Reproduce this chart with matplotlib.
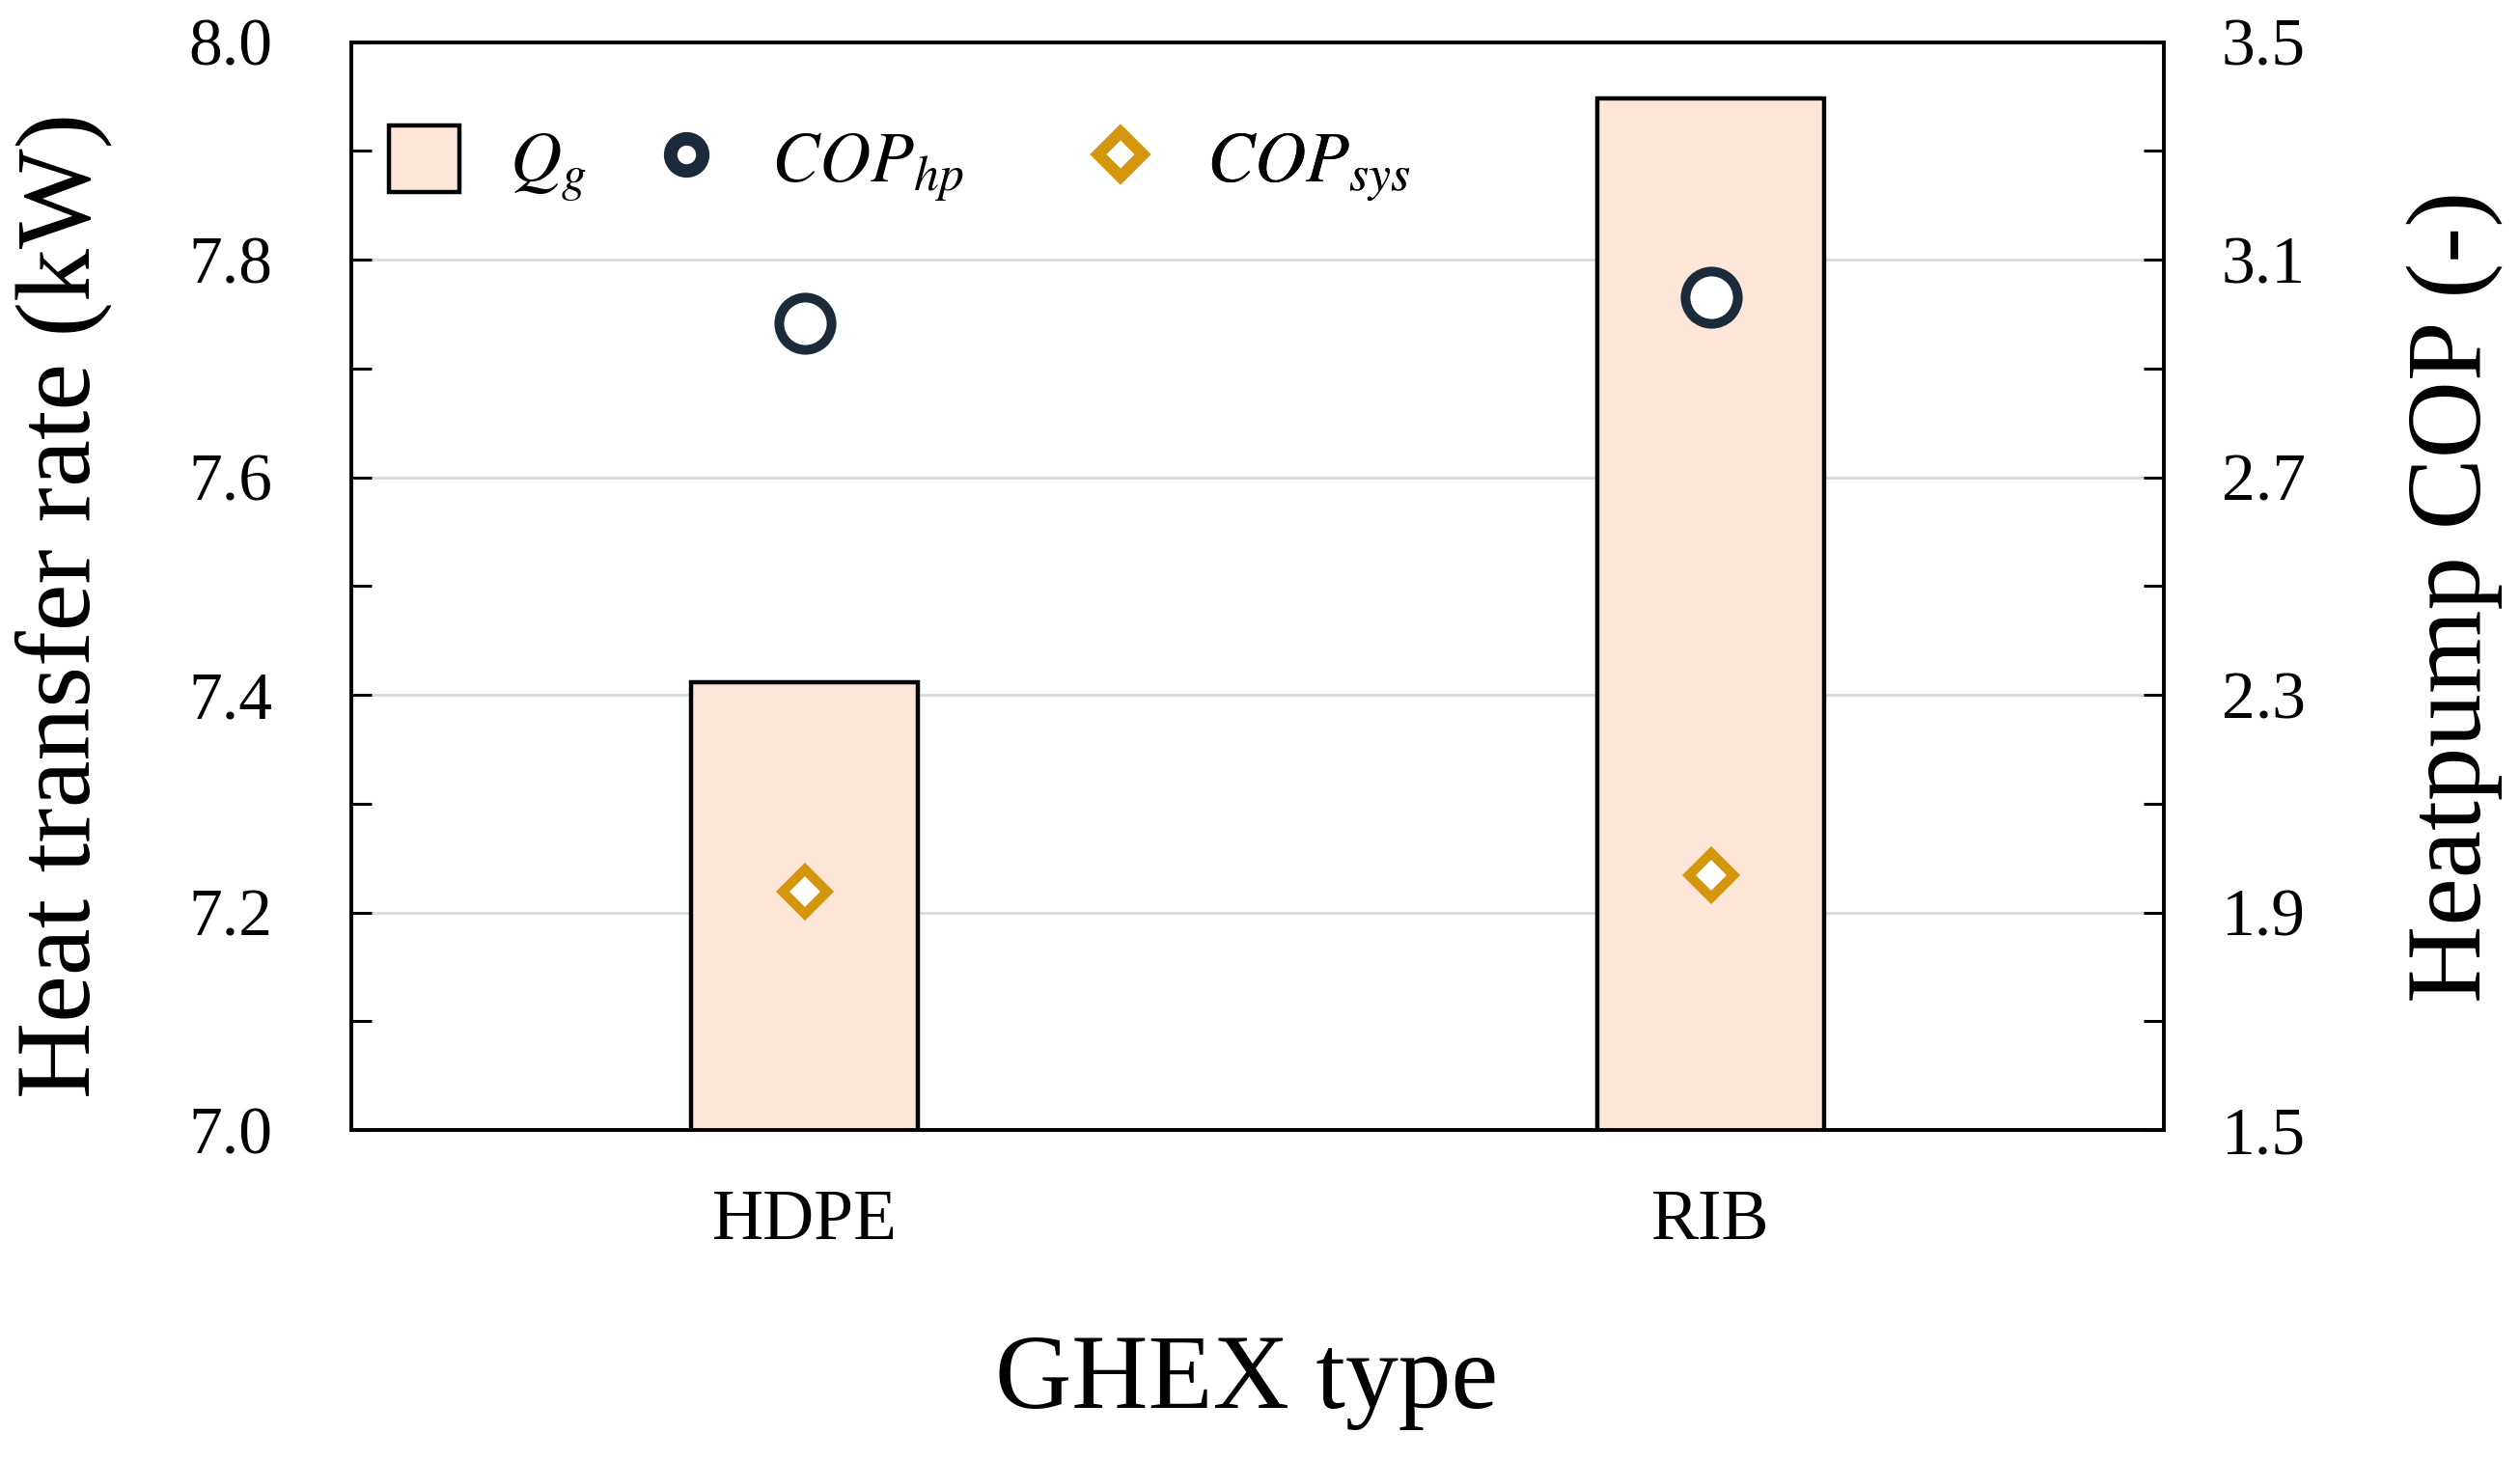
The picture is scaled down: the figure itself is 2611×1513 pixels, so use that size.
#!/usr/bin/env python3
"""Heat transfer rate and heat pump COP by GHEX type."""

import matplotlib

matplotlib.use("Agg")
import matplotlib.pyplot as plt
import numpy as np
from matplotlib.lines import Line2D
from matplotlib.patches import Patch
from matplotlib.ticker import FormatStrFormatter

# data
GHEX_TYPES = ["HDPE", "RIB"]
HEAT_RATE_KW = [7.412, 7.948]
COP_HP = [2.983, 3.031]
COP_SYS = [1.938, 1.968]

BAR_FILL = "#fde6d8"
HP_COLOR = "#1c2b3a"
SYS_COLOR = "#d4960c"
GRID_COLOR = "#d9d9d9"

# left edge of each legend entry, axes fraction (entries sit on fixed columns)
LEGEND_X = (0.0207, 0.165, 0.405)
LEGEND_Y = 0.887

plt.rcParams["font.family"] = ["Liberation Serif", "DejaVu Serif"]
plt.rcParams["mathtext.fontset"] = "stix"


def main() -> None:
    fig = plt.figure(figsize=(26.11, 15.13), dpi=100)
    fig.subplots_adjust(left=364 / 2611, right=2242 / 2611,
                        top=1 - 43.6 / 1513, bottom=1 - 1171 / 1513)
    ax = fig.add_subplot(111)
    ax2 = ax.twinx()

    x = np.arange(len(GHEX_TYPES))
    ax.bar(x, HEAT_RATE_KW, width=0.25, color=BAR_FILL, edgecolor="black",
           linewidth=3.2, zorder=2)
    ax.set_xlim(-0.5, 1.5)
    ax.set_ylim(7.0, 8.0)
    ax.set_axisbelow(True)
    ax.yaxis.grid(True, which="major", color=GRID_COLOR, linewidth=2)

    ax2.plot(x, COP_HP, ls="none", marker="o", ms=39, mfc="white",
             mec=HP_COLOR, mew=7.2, zorder=3)
    ax2.plot(x, COP_SYS, ls="none", marker="D", ms=23, mfc="white",
             mec=SYS_COLOR, mew=7.2, zorder=3)
    ax2.set_ylim(1.5, 3.5)

    # ticks
    ax.set_xticks(x)
    ax.set_xticklabels(GHEX_TYPES)
    ax.tick_params(axis="x", length=0, labelsize=53, pad=44)
    ax.set_yticks(np.arange(7.0, 8.01, 0.2))
    ax.set_yticks(np.arange(7.1, 8.0, 0.2), minor=True)
    ax.yaxis.set_major_formatter(FormatStrFormatter("%.1f"))
    ax.tick_params(axis="y", which="both", direction="in", length=15,
                   width=2.2, labelsize=50, pad=59, right=False)

    ax2.set_yticks(np.arange(1.5, 3.51, 0.4))
    ax2.set_yticks(np.arange(1.7, 3.4, 0.4), minor=True)
    ax2.yaxis.set_major_formatter(FormatStrFormatter("%.1f"))
    ax2.tick_params(axis="y", which="both", direction="in", length=15,
                    width=2.2, labelsize=50, pad=43, left=False)

    for axis in (ax, ax2):
        for spine in axis.spines.values():
            spine.set_linewidth(2.6)

    # axis labels
    ax.set_xlabel("GHEX type", fontsize=79)
    ax.xaxis.label.set_va("center")
    ax.xaxis.set_label_coords(0.494, -0.232)
    ax.set_ylabel("Heat transfer rate (kW)", fontsize=79)
    ax.yaxis.label.set_va("center")
    ax.yaxis.set_label_coords(-0.159, 0.482)
    ax2.set_ylabel("Heatpump COP (-)", fontsize=80)
    ax2.yaxis.label.set_va("center")
    ax2.yaxis.set_label_coords(1.161, 0.490)

    handles = [
        Patch(facecolor=BAR_FILL, edgecolor="black", linewidth=3.2),
        Line2D([], [], ls="none", marker="o", ms=24, mfc="white",
               mec=HP_COLOR, mew=10),
        Line2D([], [], ls="none", marker="D", ms=23, mfc="white",
               mec=SYS_COLOR, mew=8.6),
    ]
    labels = [r"$Q_g$", r"$COP_{hp}$", r"$COP_{sys}$"]
    for handle, label, x0 in zip(handles, labels, LEGEND_X):
        leg = ax2.legend([handle], [label], loc="center left",
                         bbox_to_anchor=(x0, LEGEND_Y), frameon=False,
                         fontsize=53, borderpad=0, borderaxespad=0,
                         handlelength=1.0, handleheight=1.07,
                         handletextpad=0.7)
        ax2.add_artist(leg)

    fig.savefig("out.png", dpi=100)
    plt.close(fig)


if __name__ == "__main__":
    main()
